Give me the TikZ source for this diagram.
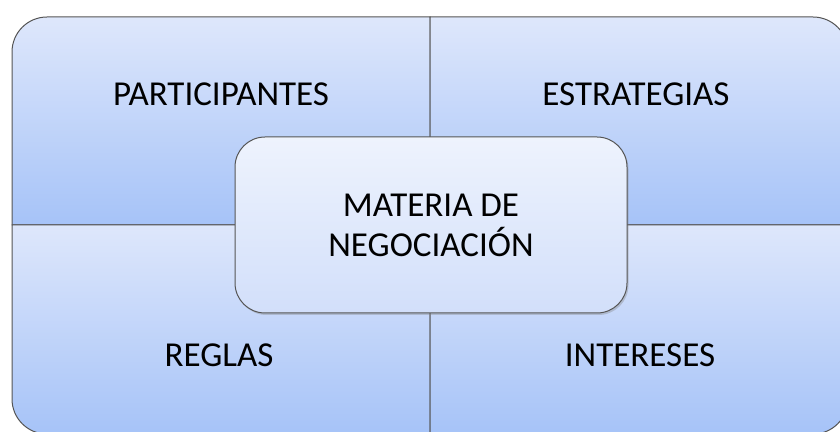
\documentclass[tikz,border=0pt]{standalone}
\usepackage{fontspec}
\setmainfont{Carlito}
\usetikzlibrary{shadows}
\definecolor{quadtop}{RGB}{222,231,251}
\definecolor{quadbot}{RGB}{166,195,248}
\definecolor{midtop}{RGB}{238,243,253}
\definecolor{midbot}{RGB}{210,223,250}
\definecolor{edge}{RGB}{85,85,85}
\tikzstyle{quad}=[draw=edge, line width=1pt, top color=quadtop, bottom color=quadbot]
\tikzstyle{qtext}=[font=\fontsize{35}{40}\selectfont, anchor=base]
\tikzstyle{middle}=[rectangle, rounded corners=30pt, draw=edge, line width=1pt, top color=midtop, bottom color=midbot,
                    minimum width=392pt, minimum height=176pt, align=center, font=\fontsize{35}{40}\selectfont,
                    drop shadow={shadow xshift=1.5pt, shadow yshift=-2pt, opacity=0.35}]

\begin{document}
\begin{tikzpicture}[x=1pt, y=1pt]
                    \useasboundingbox (0,0) rectangle (840,431);
                    \clip (0,0) rectangle (840,431);
                    \draw[quad] (12,206) -- (12,379) arc[start angle=180, end angle=90, radius=35] -- (430,414) -- (430,206) -- cycle;
                    \draw[quad] (430,206) -- (430,414) -- (813,414) arc[start angle=90, end angle=0, radius=35] -- (848,206) -- cycle;
                    \draw[quad] (12,206) -- (12,32) arc[start angle=180, end angle=270, radius=35] -- (430,-3) -- (430,206) -- cycle;
                    \draw[quad] (430,206) -- (430,-3) -- (813,-3) arc[start angle=270, end angle=360, radius=35] -- (848,206) -- cycle;
                    \node[qtext] (part) at (221, 325) {PARTICIPANTES};
                    \node[qtext] (estr) at (636, 325) {ESTRATEGIAS};
                    \node[qtext] (regl) at (219, 64)  {REGLAS};
                    \node[qtext] (inte) at (640, 64)  {INTERESES};
                    \node[middle] (materia) at (431, 206) {MATERIA DE\\NEGOCIACIÓN};
                \end{tikzpicture}
\end{document}
